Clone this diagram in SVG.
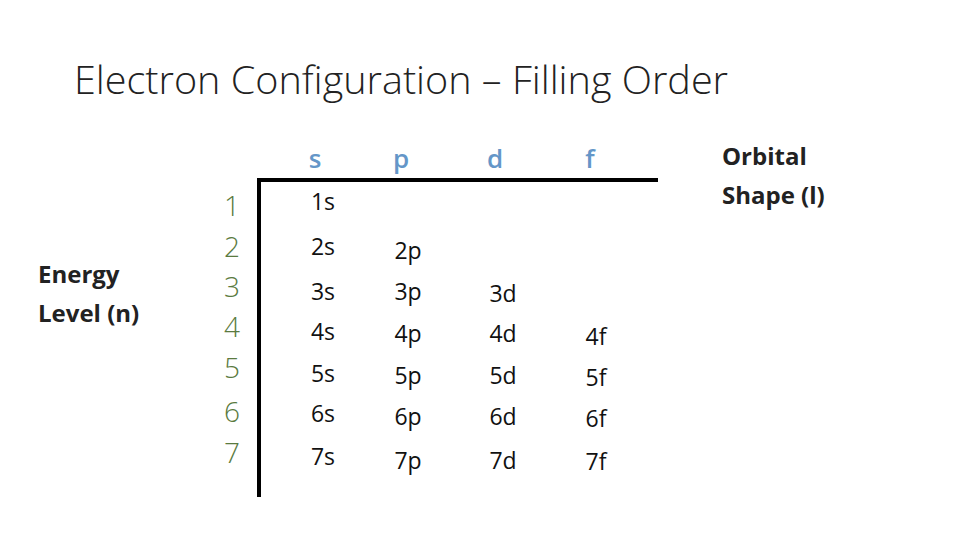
<svg xmlns="http://www.w3.org/2000/svg" width="960" height="540" viewBox="0 0 960 540">
<style>
text{font-family:"Open Sans","Liberation Sans",sans-serif}
.t{font-size:38px;fill:#222;font-weight:300}
.h{font-size:26px;fill:#6496c8;text-anchor:middle;font-weight:600}
.n{font-size:28px;fill:#5a7a40;text-anchor:middle;font-weight:300}
.c{font-size:23px;fill:#111;text-anchor:middle}
.b{font-size:24px;font-weight:bold;fill:#222}
</style>
<rect width="960" height="540" fill="#fff"/>
<text class="t" x="74" y="94" textLength="654" lengthAdjust="spacingAndGlyphs">Electron Configuration – Filling Order</text>
<g id="headers">
<text class="h" x="315" y="168">s</text><text class="h" x="401" y="168">p</text><text class="h" x="495" y="168">d</text><text class="h" x="590" y="168">f</text>
</g>
<g id="orbital-label"><text class="b" x="722" y="165">Orbital</text><text class="b" x="722" y="204">Shape (l)</text></g>
<g id="energy-label"><text class="b" x="38" y="283">Energy</text><text class="b" x="38" y="322">Level  (n)</text></g>
<g id="levels">
<text class="n" x="232" y="216">1</text><text class="n" x="232" y="257">2</text><text class="n" x="232" y="297">3</text><text class="n" x="232" y="337">4</text><text class="n" x="232" y="378">5</text><text class="n" x="232" y="422">6</text><text class="n" x="232" y="463">7</text>
</g>
<g id="connectors"><path d="M259,497 V180 H658" fill="none" stroke="#000" stroke-width="4"/></g>
<g id="cells">
<text class="c" x="323" y="210">1s</text>
<text class="c" x="323" y="255">2s</text><text class="c" x="408" y="259">2p</text>
<text class="c" x="323" y="300">3s</text><text class="c" x="408" y="300">3p</text><text class="c" x="503" y="302">3d</text>
<text class="c" x="323" y="340">4s</text><text class="c" x="408" y="342">4p</text><text class="c" x="503" y="342">4d</text><text class="c" x="596" y="345">4f</text>
<text class="c" x="323" y="382">5s</text><text class="c" x="408" y="384">5p</text><text class="c" x="503" y="384">5d</text><text class="c" x="596" y="386">5f</text>
<text class="c" x="323" y="422">6s</text><text class="c" x="408" y="425">6p</text><text class="c" x="503" y="425">6d</text><text class="c" x="596" y="427">6f</text>
<text class="c" x="323" y="465">7s</text><text class="c" x="408" y="469">7p</text><text class="c" x="503" y="469">7d</text><text class="c" x="596" y="470">7f</text>
</g>
</svg>
